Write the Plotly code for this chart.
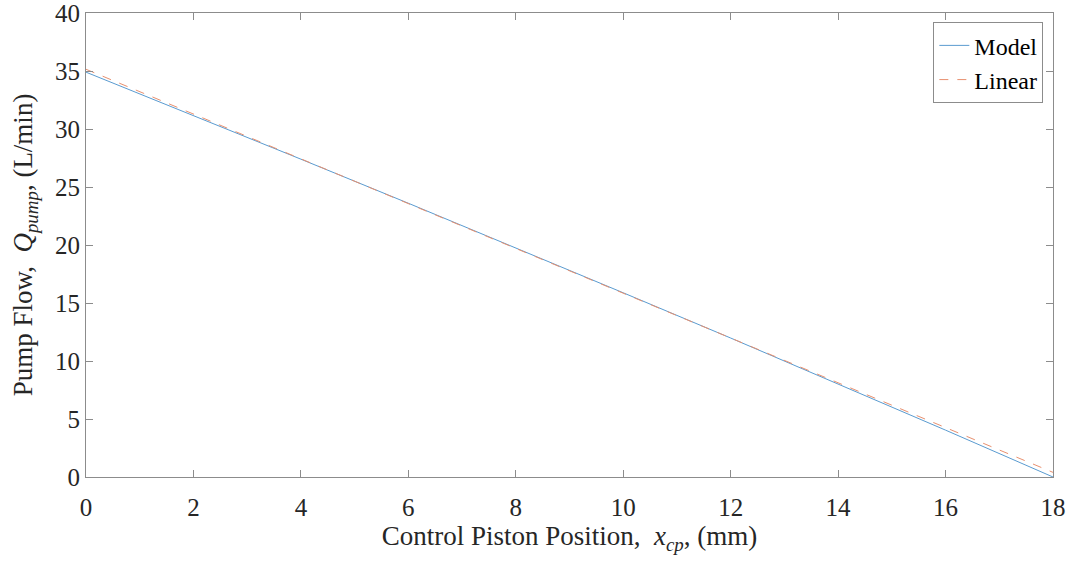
import plotly.graph_objects as go

x_mm = [0, 2, 4, 6, 8, 10, 12, 14, 16, 18]
q_model = [34.9, 31.17, 27.4, 23.6, 19.76, 15.88, 11.98, 8.04, 4.04, 0.0]
x_lin = [0, 18]
q_linear = [35.15, 0.4]

FONT = "Liberation Serif"

fig = go.Figure()
fig.add_trace(go.Scatter(x=x_mm, y=q_model, mode="lines", name="Model",
                         line=dict(color="#5a9bd0", width=1)))
fig.add_trace(go.Scatter(x=x_lin, y=q_linear, mode="lines", name="Linear",
                         line=dict(color="#e8906f", width=1, dash="dash")))

axis_common = dict(showline=True, linecolor="#8c8c8c", linewidth=1, mirror="ticks",
                   ticks="inside", ticklen=7, tickcolor="#8c8c8c", showgrid=False,
                   zeroline=False, ticklabeloverflow="allow", automargin=False,
                   tickfont=dict(family=FONT, size=25, color="#262626"))

fig.update_xaxes(range=[0, 18], tickvals=list(range(0, 19, 2)), ticklabelstandoff=8,
                 title=dict(text="Control Piston Position,  <i>x</i><sub><i>cp</i></sub>, (mm)",
                            font=dict(family=FONT, size=27, color="#262626"), standoff=4),
                 **axis_common)
fig.update_yaxes(range=[0, 40], tickvals=list(range(0, 41, 5)),
                 title=dict(text="Pump Flow,  <i>Q</i><sub><i>pump</i></sub>, (L/min)",
                            font=dict(family=FONT, size=27, color="#262626"), standoff=14),
                 **axis_common)

fig.update_layout(
    width=1070, height=563,
    margin=dict(l=86, r=17, t=13, b=86),
    paper_bgcolor="white", plot_bgcolor="white",
    showlegend=True,
    legend=dict(x=0.99, y=0.98, xanchor="right", yanchor="top",
                bgcolor="white", bordercolor="#8c8c8c", borderwidth=1,
                font=dict(family=FONT, size=24, color="#000000"),
                tracegroupgap=0, itemwidth=30),
)

fig.write_html("out.html")
